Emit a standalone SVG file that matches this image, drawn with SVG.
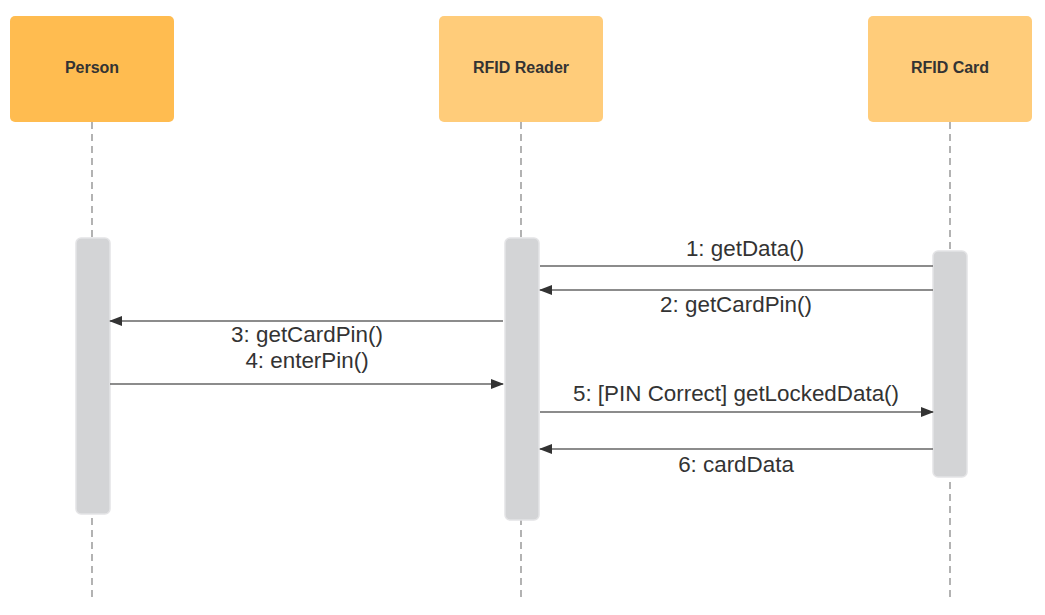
<svg xmlns="http://www.w3.org/2000/svg" width="1045" height="615" viewBox="0 0 1045 615">
<style>
.hdr{stroke:none}
.hdrtxt{font-family:"Liberation Sans",Arial,sans-serif;font-size:16px;font-weight:bold;fill:#333;text-anchor:middle}
.life{stroke:#8a8a8a;stroke-width:1.3;stroke-dasharray:7 5;fill:none}
.act{fill:#d3d4d6;stroke:#e4e4e6;stroke-width:1.5}
.msg{stroke:#666;stroke-width:1.3;fill:none}
.lbl{font-family:"Liberation Sans",Arial,sans-serif;font-size:22.4px;fill:#333;text-anchor:middle}
</style>
<defs>
<marker id="arr" markerWidth="13" markerHeight="10" refX="12" refY="5" orient="auto" markerUnits="userSpaceOnUse">
<path d="M0,0 L13,5 L0,10 Z" fill="#333"/>
</marker>
</defs>
<rect width="1045" height="615" fill="#fff"/>
<g id="person">
<rect class="hdr" x="10" y="16" width="164" height="106" rx="5" fill="#ffbc50"/>
<text class="hdrtxt" x="92" y="73">Person</text>
<line class="life" x1="92" y1="122" x2="92" y2="600"/>
<rect class="act" x="76" y="238" width="34" height="276" rx="5"/>
</g>
<g id="reader">
<rect class="hdr" x="439" y="16" width="164" height="106" rx="5" fill="#ffcc7a"/>
<text class="hdrtxt" x="521" y="73">RFID Reader</text>
<line class="life" x1="521" y1="122" x2="521" y2="600"/>
<rect class="act" x="505" y="238" width="34" height="282" rx="5"/>
</g>
<g id="card">
<rect class="hdr" x="868" y="16" width="164" height="106" rx="5" fill="#ffcc7a"/>
<text class="hdrtxt" x="950" y="73">RFID Card</text>
<line class="life" x1="950" y1="122" x2="950" y2="600"/>
<rect class="act" x="933" y="251" width="34" height="226" rx="5"/>
</g>
<g id="connectors">
<line class="msg" x1="933" y1="266" x2="540" y2="266"/>
<text class="lbl" x="745" y="256">1: getData()</text>
<line class="msg" x1="933" y1="290" x2="540" y2="290" marker-end="url(#arr)"/>
<text class="lbl" x="736" y="312">2: getCardPin()</text>
<line class="msg" x1="503" y1="321" x2="110" y2="321" marker-end="url(#arr)"/>
<text class="lbl" x="307" y="342">3: getCardPin()</text>
<line class="msg" x1="110" y1="384" x2="503" y2="384" marker-end="url(#arr)"/>
<text class="lbl" x="307" y="368">4: enterPin()</text>
<line class="msg" x1="540" y1="412" x2="933" y2="412" marker-end="url(#arr)"/>
<text class="lbl" x="736" y="401">5: [PIN Correct] getLockedData()</text>
<line class="msg" x1="933" y1="449" x2="540" y2="449" marker-end="url(#arr)"/>
<text class="lbl" x="736" y="472">6: cardData</text>
</g>
</svg>
